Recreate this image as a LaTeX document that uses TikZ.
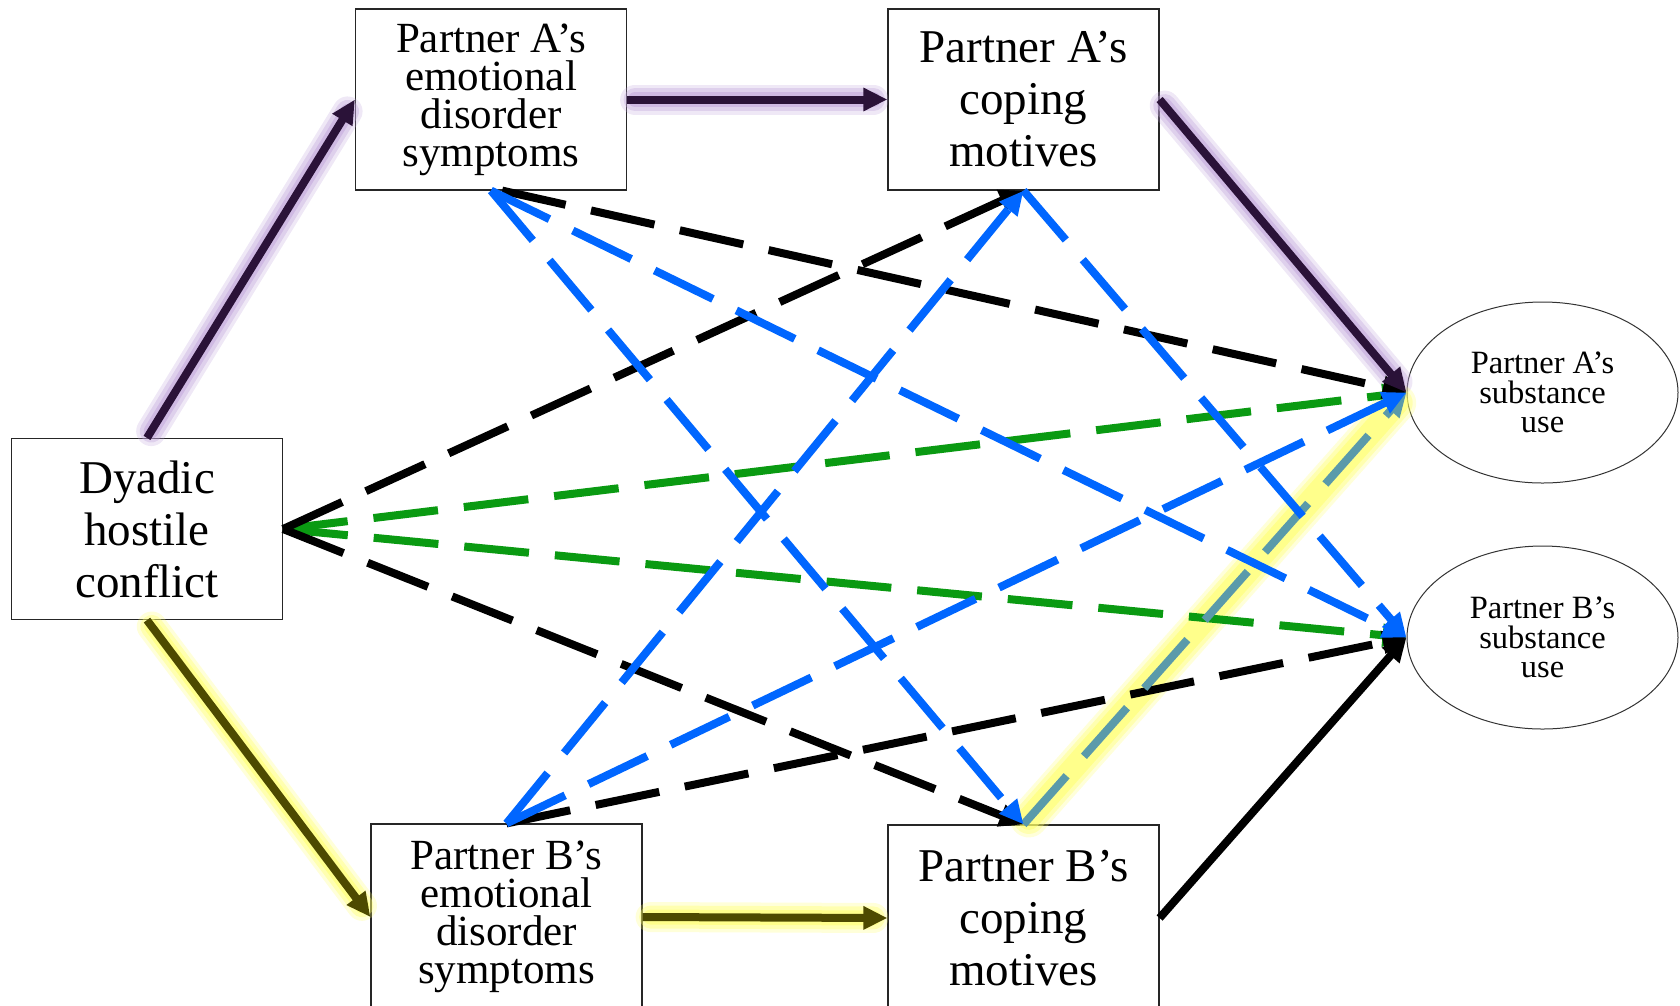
\documentclass[tikz,border=0pt]{standalone}
\usepackage{fontspec}
\setmainfont{Liberation Serif}
\usepackage{xcolor}
\usepackage{tikz}
\usetikzlibrary{arrows.meta,shapes.geometric}
\definecolor{pathpurple}{HTML}{2A1238}
\definecolor{patholive}{HTML}{4D4A00}
\definecolor{glowpurple}{HTML}{BFA3DA}
\definecolor{glowyellow}{HTML}{FFFF66}
\definecolor{crossblue}{HTML}{0066FF}
\definecolor{crossteal}{HTML}{5A9AAA}
\definecolor{directgreen}{HTML}{0A9A12}
\tikzset{
  varbox/.style={draw=black!85,line width=1.2pt,minimum width=271pt,minimum height=181pt,inner sep=0pt,align=center,font=\fontsize{47}{52}\selectfont},
  emobox/.style={varbox,font=\fontsize{43}{38}\selectfont},
  outcome/.style={ellipse,draw=black!80,line width=1pt,minimum width=271pt,minimum height=181pt,inner sep=0pt,align=center,font=\fontsize{32.5}{29.5}\selectfont},
  solidarr/.style={line width=8pt,-{Triangle[length=24pt,width=22pt]}},
  dasharr/.style={line width=8pt,dash pattern=on 65pt off 26pt,-{Triangle[length=24pt,width=22pt]}},
  glowline/.style={line width=#1,line cap=round,shorten <=8pt,shorten >=14pt}
}

\begin{document}
\begin{tikzpicture}[x=1pt,y=-1pt]
    \useasboundingbox (0,0) rectangle (1680,1005);
    \node[varbox] (dyadic) at (147,529) {Dyadic\\hostile\\conflict};
    \node[emobox] (aemo) at (491,99.5) {Partner A’s\\emotional\\disorder\\symptoms};
    \node[varbox] (acope) at (1023.5,99.5) {Partner A’s\\coping\\motives};
    \node[emobox,minimum height=186pt] (bemo) at (506.5,917) {Partner B’s\\emotional\\disorder\\symptoms};
    \node[varbox,minimum height=186pt] (bcope) at (1023.5,918) {Partner B’s\\coping\\motives};
    \node[outcome] (asub) at (1542.5,392.5) {Partner A’s\\substance\\use};
    \node[outcome,minimum height=183pt] (bsub) at (1542.5,637.5) {Partner B’s\\substance\\use};
    \foreach \w/\o in {30/.25,23/.35,15/.5} {
      \draw[glowline=\w pt,glowpurple,opacity=\o] (dyadic.north) -- (aemo.west);
      \draw[glowline=\w pt,glowpurple,opacity=\o] (aemo.east) -- (acope.west);
      \draw[glowline=\w pt,glowpurple,opacity=\o] (acope.east) -- (asub.west);
      \draw[glowline=\w pt,glowyellow,opacity=\o] (dyadic.south) -- (bemo.west);
      \draw[glowline=\w pt,glowyellow,opacity=\o] (bemo.east) -- (bcope.west);
      \draw[glowline=\w pt+8pt,glowyellow,opacity=\o] (bcope.north) -- (asub.west);
    }
    \draw[dasharr,directgreen] (dyadic.east) -- (asub.west);
    \draw[dasharr,directgreen] (dyadic.east) -- (bsub.west);
    \draw[dasharr,black] (aemo.-83) -- (asub.west);
    \draw[dasharr,black] (bemo.north) -- (bsub.west);
    \draw[dasharr,black] (dyadic.east) -- (acope.south);
    \draw[dasharr,black] (dyadic.east) -- (bcope.north);
    \draw[dasharr,crossteal] (bcope.north) -- (asub.west);
    \draw[dasharr,crossblue] (aemo.south) -- (bcope.north);
    \draw[dasharr,crossblue] (aemo.south) -- (bsub.west);
    \draw[dasharr,crossblue] (bemo.north) -- (acope.south);
    \draw[dasharr,crossblue] (bemo.north) -- (asub.west);
    \draw[dasharr,crossblue] (acope.south) -- (bsub.west);
    \draw[solidarr,pathpurple] (dyadic.north) -- (aemo.west);
    \draw[solidarr,pathpurple] (aemo.east) -- (acope.west);
    \draw[solidarr,pathpurple] (acope.east) -- (asub.west);
    \draw[solidarr,patholive] (dyadic.south) -- (bemo.west);
    \draw[solidarr,patholive] (bemo.east) -- (bcope.west);
    \draw[solidarr,black] (bcope.east) -- (bsub.west);
  \end{tikzpicture}
\end{document}
